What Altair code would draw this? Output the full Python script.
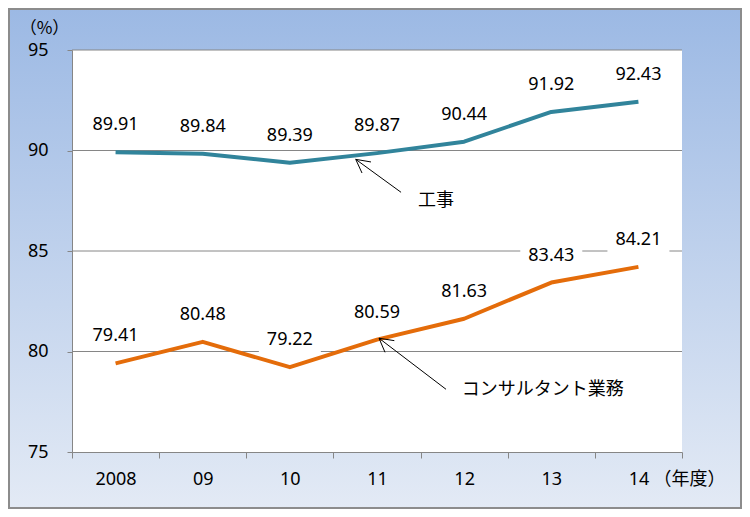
import altair as alt
import pandas as pd

# ---------------- data ----------------
years = ["2008", "09", "10", "11", "12", "13", "14"]
koji = [89.91, 89.84, 89.39, 89.87, 90.44, 91.92, 92.43]
consul = [79.41, 80.48, 79.22, 80.59, 81.63, 83.43, 84.21]
series_names = ["工事", "コンサルタント業務"]
series_colors = ["#31849B", "#E46C0A"]
y_ticks = [75, 80, 85, 90, 95]
grid_values = [80, 85, 90, 95]

# annotations: x in category units (band i spans [i, i+1]), y in %
ann_text = ["工事", "コンサルタント業務"]
ann_text_x = [3.97, 4.472]
ann_text_y = [87.49, 78.09]
arrow_tip_x = [3.256, 3.523]
arrow_tip_y = [89.56, 80.66]
arrow_tail_x = [3.776, 4.292]
arrow_tail_y = [87.92, 78.12]
arm1_x = [3.431, 3.699]
arm1_y = [89.43, 80.54]
arm2_x = [3.328, 3.592]
arm2_y = [88.88, 79.96]

# ---------------- tables ----------------
df = pd.DataFrame({
    "year": years * 2,
    "value": koji + consul,
    "series": [series_names[0]] * len(years) + [series_names[1]] * len(years),
})

seg_rows = []
for i in range(len(arrow_tip_x)):
    for ex, ey in [(arrow_tail_x[i], arrow_tail_y[i]), (arm1_x[i], arm1_y[i]), (arm2_x[i], arm2_y[i])]:
        seg_rows.append({"x1": arrow_tip_x[i], "y1": arrow_tip_y[i], "x2": ex, "y2": ey})
seg_df = pd.DataFrame(seg_rows)
txt_df = pd.DataFrame({"t": ann_text, "x": ann_text_x, "y": ann_text_y})
grid_df = pd.DataFrame({"v": grid_values})

# ---------------- styles ----------------
W, H = 610, 402
GRID = "#868686"
NUM_FONT = "Noto Sans"
CJK_FONT = "Noto Sans CJK JP"

yscale = alt.Scale(domain=[75, 95], nice=False, zero=False)
xscale = alt.Scale(paddingInner=0, paddingOuter=0)
axscale = alt.Scale(domain=[0, 7], nice=False, zero=False)

xaxis = alt.Axis(
    title="（年度）", titleX=581, titleY=27, titleAlign="left", titleBaseline="middle",
    titleFont=CJK_FONT, titleFontSize=18, titleFontWeight="normal", titleColor="black",
    labelAngle=0, labelFont=NUM_FONT, labelFontSize=18, labelColor="black",
    labelBaseline="middle", labelPadding=21, tickSize=6, tickBand="extent",
    tickColor=GRID, domainColor=GRID, grid=False, zindex=1,
)
yaxis = alt.Axis(
    values=y_ticks, format="d",
    title="（%）", titleAngle=0, titleX=-28, titleY=-22, titleAlign="center",
    titleBaseline="middle", titleFont=CJK_FONT, titleFontSize=17,
    titleFontWeight="normal", titleColor="black",
    labelFont=NUM_FONT, labelFontSize=18, labelColor="black", labelPadding=19,
    tickSize=5, tickColor=GRID, domainColor=GRID, grid=False, zindex=1,
)

dummy = alt.Data(values=[{}])

bg = alt.Chart(dummy).mark_rect(
    fill=alt.LinearGradient(
        gradient="linear", x1=0, x2=0, y1=0, y2=1,
        stops=[alt.GradientStop(color="#9CB9E4", offset=0),
               alt.GradientStop(color="#E3EAF5", offset=1)],
    ),
    stroke="#8C8C8C", strokeWidth=2,
).encode(x=alt.value(-63), x2=alt.value(669), y=alt.value(-41), y2=alt.value(458))

plot_bg = alt.Chart(dummy).mark_rect(fill="white").encode(
    x=alt.value(0), x2=alt.value(W), y=alt.value(0), y2=alt.value(H)
)

Y = lambda f: alt.Y(f, scale=yscale, axis=yaxis)
X = alt.X("year:N", sort=years, scale=xscale, axis=xaxis)

grid = alt.Chart(grid_df).mark_rule(color=GRID, strokeWidth=1).encode(y=Y("v:Q"))

lines = alt.Chart(df).mark_line(strokeWidth=4, strokeJoin="round").encode(
    x=X,
    y=Y("value:Q"),
    color=alt.Color("series:N", scale=alt.Scale(domain=series_names, range=series_colors), legend=None),
)

BOX = "M-1,-0.387L1,-0.387L1,0.387L-1,0.387Z"
boxes = alt.Chart(df).transform_calculate(ly="datum.value + 1.343").mark_point(
    shape=BOX, filled=True, fill="white", opacity=1, size=3844, strokeWidth=0
).encode(x=X, y=Y("ly:Q"))

labels = alt.Chart(df).transform_calculate(ly="datum.value + 1.343").mark_text(
    font=NUM_FONT, fontSize=18, color="black", baseline="middle", align="center"
).encode(x=X, y=Y("ly:Q"), text=alt.Text("value:Q", format=".2f"))

inner = alt.layer(bg, plot_bg, grid, lines, boxes, labels)

rules = alt.Chart(seg_df).mark_rule(color="black", strokeWidth=1).encode(
    x=alt.X("x1:Q", scale=axscale, axis=None), x2="x2:Q",
    y=Y("y1:Q"), y2="y2:Q",
)
anntext = alt.Chart(txt_df).mark_text(
    font=CJK_FONT, fontSize=18, color="black", baseline="middle", align="left"
).encode(
    x=alt.X("x:Q", scale=axscale, axis=None),
    y=Y("y:Q"),
    text="t:N",
)
ann = alt.layer(rules, anntext)

chart = alt.layer(inner, ann).resolve_scale(x="independent").properties(
    width=W, height=H, padding=0
).configure_view(stroke=None)

chart.save("out.html", embed_options={"renderer": "svg", "actions": False})
